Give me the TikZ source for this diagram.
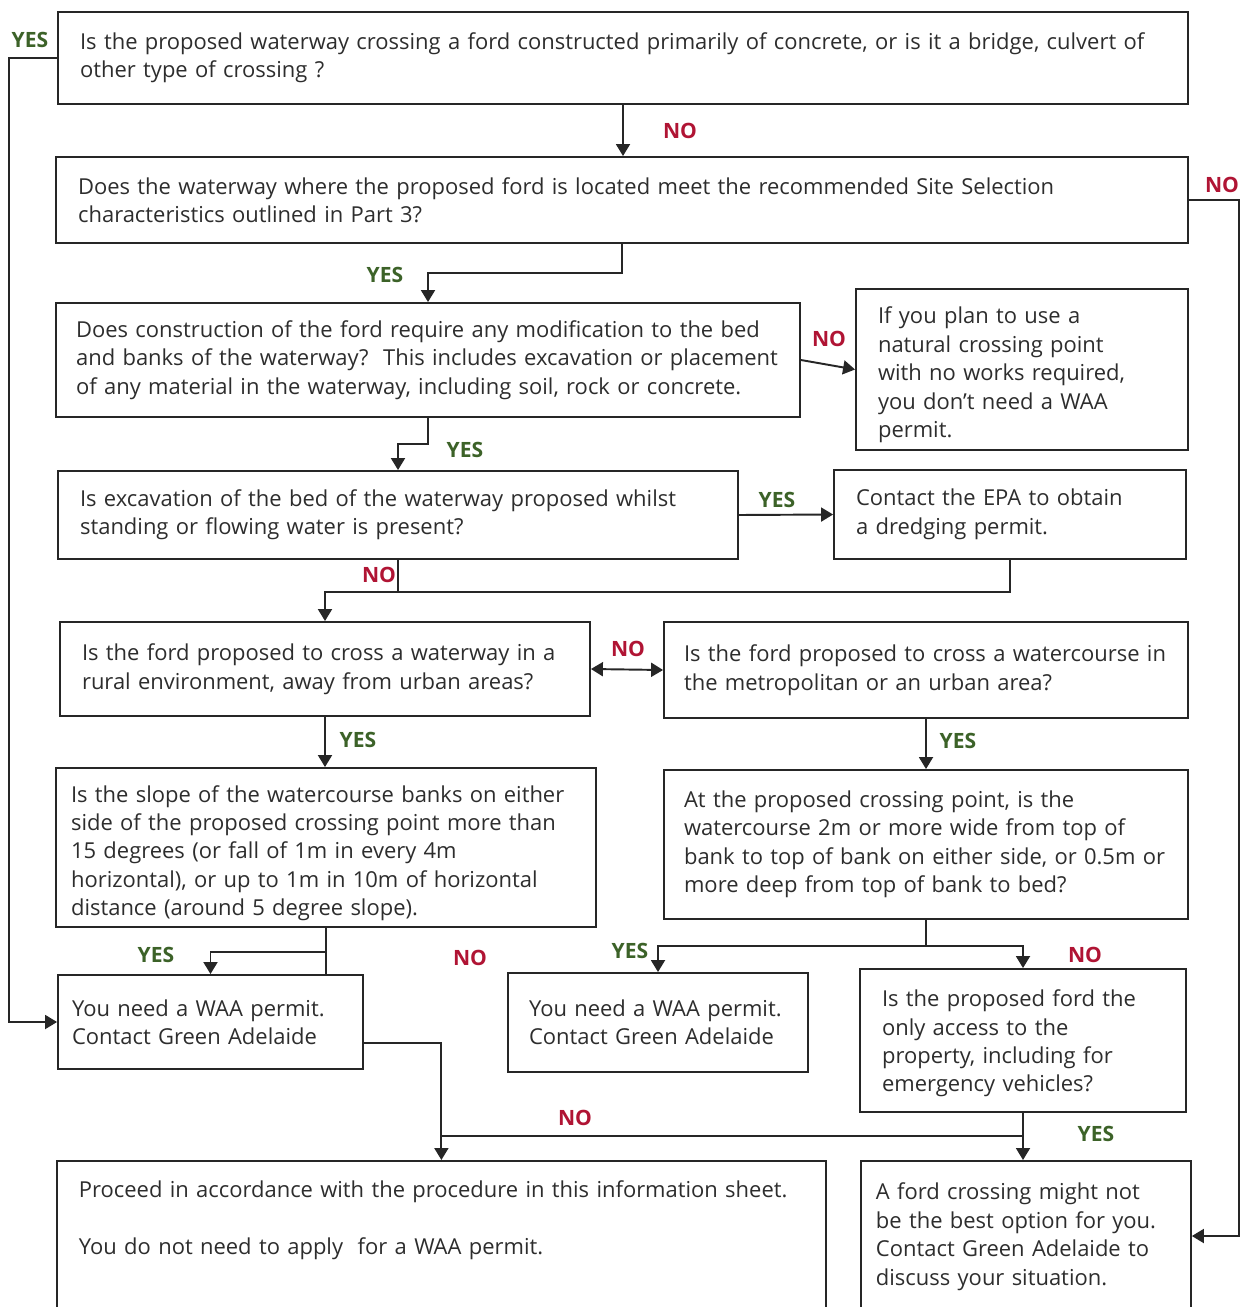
\documentclass[tikz,border=0pt]{standalone}
\usepackage{fontspec}
\newfontfamily\chartfont{Open Sans}
\usetikzlibrary{arrows.meta,calc}
\definecolor{linegray}{RGB}{38,38,38}
\definecolor{textgray}{RGB}{45,45,45}
\definecolor{yesgreen}{RGB}{60,98,40}
\definecolor{nored}{RGB}{176,20,52}
\begin{document}
\begin{tikzpicture}[x=0.02cm,y=-0.02cm,
	box/.style={draw=linegray,line width=1.1pt,text=textgray,align=left,inner xsep=0.44cm,inner ysep=0.2cm,font=\chartfont\fontsize{12.5}{16.2}\selectfont},
	yes/.style={text=yesgreen,inner sep=0pt,font=\chartfont\bfseries\fontsize{12}{14}\selectfont},
	no/.style={text=nored,inner sep=0pt,font=\chartfont\bfseries\fontsize{12}{14}\selectfont},
	link/.style={draw=linegray,line width=1.1pt},
	>={Triangle[length=2.4mm,width=2.8mm]}]
	\path[use as bounding box,clip] (0,0) rectangle (1244,1307);
	\node[box,text width=21.72cm,minimum height=1.84cm] (b1) at (623,58) {Is the proposed waterway crossing a ford constructed primarily of concrete, or is it a bridge, culvert of\\other type of crossing ?};
	\node[box,text width=21.76cm,minimum height=1.72cm] (b2) at (622,200) {Does the waterway where the proposed ford is located meet the recommended Site Selection\\characteristics outlined in Part 3?};
	\node[box,inner xsep=0.4cm,text width=14.08cm,minimum height=2.28cm] (b3) at (428,360) {Does construction of the ford require any modification to the bed\\and banks of the waterway?\ \ This includes excavation or placement\\of any material in the waterway, including soil, rock or concrete.};
	\node[box,inner ysep=0.05cm,text width=5.76cm,minimum height=3.22cm] (b4) at (1022,369.5) {\rule{0pt}{16pt}If you plan to use a\\natural crossing point\\with no works required,\\you don’t need a WAA\\permit.};
	\node[box,text width=12.72cm,minimum height=1.76cm] (b5) at (398,515) {Is excavation of the bed of the waterway proposed whilst\\standing or flowing water is present?};
	\node[box,text width=6.16cm,minimum height=1.78cm] (b6) at (1010,514.5) {Contact the EPA to obtain\\a dredging permit.};
	\node[box,text width=9.72cm,minimum height=1.88cm] (b7) at (325,669) {Is the ford proposed to cross a waterway in a\\rural environment, away from urban areas?};
	\node[box,inner xsep=0.4cm,text width=9.68cm,minimum height=1.92cm] (b8) at (926,670) {Is the ford proposed to cross a watercourse in\\the metropolitan or an urban area?};
	\node[box,inner xsep=0.3cm,inner ysep=0.05cm,text width=10.2cm,minimum height=3.18cm] (b9) at (326,847.5) {\rule{0pt}{16pt}Is the slope of the watercourse banks on either\\side of the proposed crossing point more than\\15 degrees (or fall of 1m in every 4m\\horizontal), or up to 1m in 10m of horizontal\\distance (around 5 degree slope).};
	\node[box,inner xsep=0.4cm,text width=9.68cm,minimum height=2.98cm] (b10) at (926,844.5) {At the proposed crossing point, is the\\watercourse 2m or more wide from top of\\bank to top of bank on either side, or 0.5m or\\more deep from top of bank to bed?};
	\node[box,inner xsep=0.28cm,text width=5.54cm,minimum height=1.88cm] (b11) at (210.5,1022) {You need a WAA permit.\\Contact Green Adelaide};
	\node[box,inner xsep=0.42cm,text width=5.16cm,minimum height=1.98cm] (b12) at (658,1022.5) {You need a WAA permit.\\Contact Green Adelaide};
	\node[box,inner ysep=0.1cm,text width=5.64cm,minimum height=2.86cm] (b13) at (1023,1040.5) {\rule{0pt}{13pt}Is the proposed ford the\\only access to the\\property, including for\\emergency vehicles?};
	\node[box,anchor=north west,inner ysep=0.4cm,text width=14.5cm] (b14) at (56,1160) {Proceed in accordance with the procedure in this information sheet.\\[\baselineskip]You do not need to apply\ \ for a WAA permit.\\[2cm]\mbox{}};
	\node[box,anchor=north west,inner xsep=0.3cm,inner ysep=0.44cm,text width=6cm] (b15) at (860,1160) {A ford crossing might not\\be the best option for you.\\Contact Green Adelaide to\\discuss your situation.\\[2cm]\mbox{}};

	\node[yes] (y1) at (30,40) {YES};
	\node[no] (n1) at (680,131) {NO};
	\node[no] (n2) at (1222,185) {NO};
	\node[yes] (y2) at (385,275) {YES};
	\node[no] (n3) at (829,339) {NO};
	\node[yes] (y3) at (465,450) {YES};
	\node[yes] (y4) at (777,500) {YES};
	\node[no] (n4) at (379,575) {NO};
	\node[no] (n5) at (628,649) {NO};
	\node[yes] (y5) at (358,740) {YES};
	\node[yes] (y6) at (958,741) {YES};
	\node[yes] (y7) at (156,955) {YES};
	\node[no] (n6) at (470,958) {NO};
	\node[yes] (y8) at (630,951) {YES};
	\node[no] (n7) at (1085,955) {NO};
	\node[no] (n8) at (575,1118) {NO};
	\node[yes] (y9) at (1096,1134) {YES};

	\draw[link,->] (b1.south) -- (b1.south |- b2.north);
	\draw[link,->] (b1.west) -- ++(-48,0) |- (b11.west);
	\draw[link,->] (b2.east) -- ++(50,0) |- ($(b15.north east)+(0,76)$);
	\draw[link,->] (b2.south) -- ++(0,29) -| (b3.north);
	\draw[link,->] (b3.east) -- (b4.west);
	\draw[link,->] (b3.south) -- ++(0,26) -| (b5.north);
	\draw[link,->] (b5.east) -- (b6.west);
	\draw[link,->] (b5.south) -- ++(0,32) coordinate (merge) -| (b7.north);
	\draw[link] (b6.south) |- (merge);
	\draw[link,<->] (b7.east) -- (b8.west);
	\draw[link,->] (b7.south) -- (b7.south |- b9.north);
	\draw[link,->] (b8.south) -- (b8.south |- b10.north);
	\draw[link] (b9.south) -- (b9.south |- b11.north);
	\draw[link,->] (b9.south) -- ++(0,24) -| (b11.north);
	\draw[link,->] (b10.south) -- ++(0,26) coordinate (split) -| (b12.north);
	\draw[link,->] (split) -| (b13.north);
	\draw[link,->] ($(b11.east)+(0,21)$) -| (b14.north);
	\draw[link,->] (b13.south) -- (b13.south |- b15.north);
	\draw[link] (b13.south) -- ++(0,23) coordinate (access) -- (access -| b14.north);
\end{tikzpicture}
\end{document}
